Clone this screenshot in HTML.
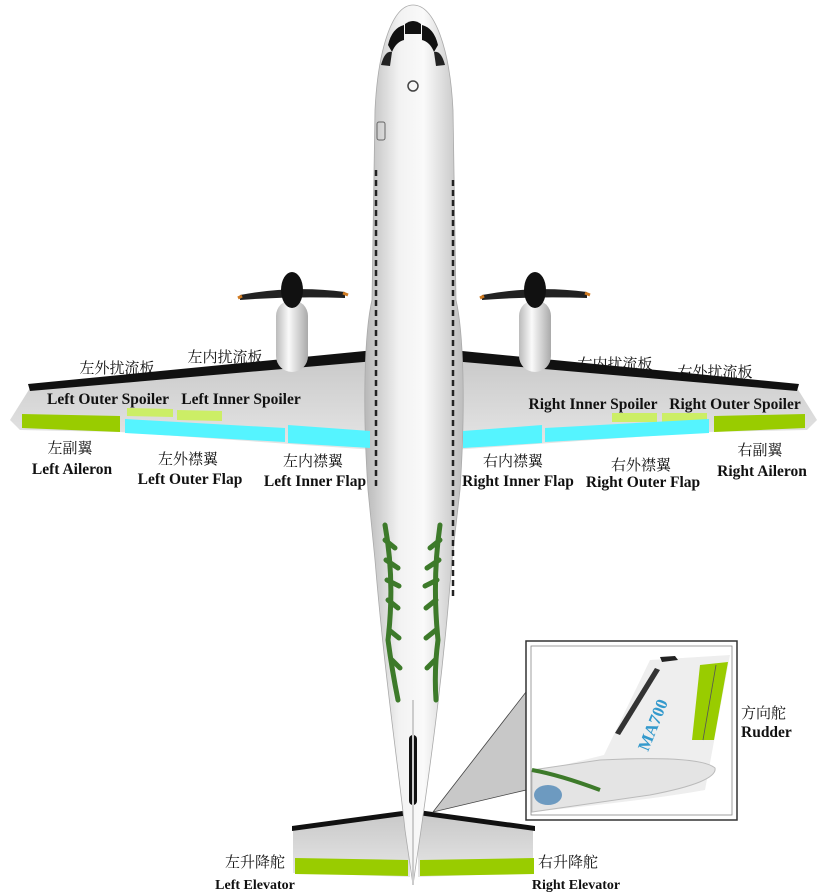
<!DOCTYPE html>
<html><head><meta charset="utf-8"><style>
html,body{margin:0;padding:0;background:#fff;}
svg{display:block;}
.cn{font-family:"Liberation Serif","Noto Serif CJK SC",serif;font-size:15px;fill:#111;}
.en{font-family:"Liberation Serif","Noto Serif CJK SC",serif;font-size:15.5px;font-weight:bold;fill:#111;}
</style></head><body>
<svg width="827" height="895" viewBox="0 0 827 895" xmlns="http://www.w3.org/2000/svg">
<defs>
<linearGradient id="fus" x1="0" x2="1" y1="0" y2="0">
<stop offset="0" stop-color="#b8b8b8"/><stop offset="0.35" stop-color="#f2f2f2"/><stop offset="0.6" stop-color="#fafafa"/><stop offset="1" stop-color="#bdbdbd"/></linearGradient>
<linearGradient id="wing" x1="0" x2="0" y1="0" y2="1">
<stop offset="0" stop-color="#c8c8c8"/><stop offset="1" stop-color="#e6e6e6"/></linearGradient>
<linearGradient id="nac" x1="0" x2="1"><stop offset="0" stop-color="#bbb"/><stop offset="0.4" stop-color="#fafafa"/><stop offset="1" stop-color="#aaa"/></linearGradient>
</defs>

<path d="M30,388 L375,354 L375,450 L120,432 L20,430 L10,420 Z" fill="url(#wing)"/>
<path d="M28,384 L375,350 L375,361 L30,391 Z" fill="#111"/>
<path d="M797,388 L452,354 L452,450 L707,432 L807,430 L817,420 Z" fill="url(#wing)"/>
<path d="M799,384 L452,350 L452,361 L797,391 Z" fill="#111"/>

<g>
<rect x="276" y="300" width="32" height="72" rx="16" fill="url(#nac)"/>
<path d="M240,295 Q292,285 345,292 L345,298 Q292,296 240,300Z" fill="#222"/>
<path d="M242,296 l-4,2 M343,293 l5,2" stroke="#d07a20" stroke-width="3"/>
<ellipse cx="292" cy="290" rx="11" ry="18" fill="#111"/>
<rect x="519" y="300" width="32" height="72" rx="16" fill="url(#nac)"/>
<path d="M482,295 Q535,285 587,292 L587,298 Q535,296 482,300Z" fill="#222"/>
<path d="M484,296 l-4,2 M585,293 l5,2" stroke="#d07a20" stroke-width="3"/>
<ellipse cx="535" cy="290" rx="11" ry="18" fill="#111"/>
</g>

<path d="M293,828 L410,812 L410,877 L293,873 Z" fill="url(#wing)"/>
<path d="M533,828 L418,812 L418,877 L533,873 Z" fill="url(#wing)"/>
<path d="M292,826 L410,810 L410,815 L292,831 Z" fill="#111"/>
<path d="M535,826 L418,810 L418,815 L535,831 Z" fill="#111"/>
<path d="M295,858 L408,860 L408,876 L295,874 Z" fill="#99cc00"/>
<path d="M420,860 L534,858 L534,874 L420,876 Z" fill="#99cc00"/>

<path d="M413,5 C392,5 378,50 375,110 L372,300 C365,330 362,400 368,490 L375,560 C385,680 400,780 405,830 L413,885 L421,830 C428,780 443,680 452,560 L460,490 C466,400 463,330 456,300 L453,110 C450,50 435,5 413,5 Z" fill="url(#fus)" stroke="#aaa" stroke-width="0.8"/>
<path d="M388,45 Q392,28 404,25 L404,40 Q396,42 392,52Z" fill="#111"/>
<path d="M438,45 Q434,28 422,25 L422,40 Q430,42 434,52Z" fill="#111"/>
<path d="M405,24 Q413,18 421,24 L421,34 L405,34Z" fill="#111"/>
<path d="M381,65 Q385,50 392,52 L390,66Z" fill="#222"/>
<path d="M445,65 Q441,50 434,52 L436,66Z" fill="#222"/>
<circle cx="413" cy="86" r="5" fill="none" stroke="#444" stroke-width="1.5"/>
<rect x="377" y="122" width="8" height="18" rx="2" fill="none" stroke="#666"/>
<line x1="376" y1="170" x2="376" y2="490" stroke="#222" stroke-width="2.5" stroke-dasharray="6,4"/>
<line x1="453" y1="180" x2="453" y2="600" stroke="#222" stroke-width="2.5" stroke-dasharray="6,4"/>
<rect x="409" y="735" width="8" height="70" rx="4" fill="#111"/>
<line x1="413" y1="700" x2="413" y2="885" stroke="#ccc" stroke-width="2"/>
<g stroke="#3d7a2a" stroke-width="5" fill="none" stroke-linecap="round">
<path d="M385,525 Q395,580 388,640 Q392,670 398,700"/>
<path d="M440,525 Q432,580 438,640 Q434,670 436,700"/>
<path d="M385,540 l10,8 M386,560 l12,8 M387,580 l12,6 M388,600 l10,8 M389,630 l10,8 M392,660 l8,8"/>
<path d="M440,540 l-10,8 M439,560 l-12,8 M437,580 l-12,6 M436,600 l-10,8 M436,630 l-10,8 M435,660 l-8,8"/>
</g>

<path d="M22,414 L120,416 L120,432 L22,428 Z" fill="#99cc00"/>
<path d="M127,408 L173,409 L173,417 L127,416 Z" fill="#ccee66"/>
<path d="M177,410 L222,411 L222,421 L177,420 Z" fill="#ccee66"/>
<path d="M125,419 L285,428 L285,442 L125,433 Z" fill="#55f4ff"/>
<path d="M288,425 L370,431 L370,448 L288,443 Z" fill="#55f4ff"/>
<path d="M805,414 L714,416 L714,432 L805,428 Z" fill="#99cc00"/>
<path d="M612,413 L657,413 L657,422 L612,422 Z" fill="#ccee66"/>
<path d="M662,413 L707,413 L707,422 L662,422 Z" fill="#ccee66"/>
<path d="M709,419 L545,428 L545,442 L709,433 Z" fill="#55f4ff"/>
<path d="M542,425 L463,431 L463,448 L542,443 Z" fill="#55f4ff"/>

<path d="M433,812 L526,692 L526,790 Z" fill="#c8c8c8" stroke="#444" stroke-width="0.8"/>
<rect x="526" y="641" width="211" height="179" fill="#fff" stroke="#333" stroke-width="1.5"/>
<rect x="531" y="646" width="201" height="169" fill="#fff" stroke="#888" stroke-width="0.8"/>
<path d="M532,773 L604,755 L650,660 L730,655 L705,790 Q650,800 532,812Z" fill="#eee"/>
<path d="M532,770 L600,760 Q700,755 715,768 Q718,782 650,795 L532,812Z" fill="#e4e4e4" stroke="#bbb"/>
<path d="M700,665 L728,662 L714,740 L692,740 Z" fill="#99cc00"/>
<line x1="716" y1="665" x2="703" y2="740" stroke="#555" stroke-width="0.8"/>
<path d="M655,668 L660,670 L620,735 L615,733Z" fill="#333"/>
<path d="M660,657 l15,-1 l3,4 l-16,2Z" fill="#222"/>
<text x="0" y="0" transform="translate(648,752) rotate(-68)" font-family="Liberation Serif,serif" font-weight="bold" font-size="17" fill="#3399cc">MA700</text>
<path d="M532,770 Q560,775 600,790" stroke="#3d7a2a" stroke-width="4" fill="none"/>
<ellipse cx="548" cy="795" rx="14" ry="10" fill="#3a7ab0" opacity="0.7"/>

<g class="cn" text-anchor="middle">
<text x="117" y="373">左外扰流板</text>
<text x="225" y="362">左内扰流板</text>
<text x="70" y="453">左副翼</text>
<text x="188" y="464">左外襟翼</text>
<text x="313" y="466">左内襟翼</text>
<text x="615" y="369">右内扰流板</text>
<text x="715" y="377">右外扰流板</text>
<text x="513" y="466">右内襟翼</text>
<text x="641" y="470">右外襟翼</text>
<text x="760" y="455">右副翼</text>
<text x="255" y="867">左升降舵</text>
<text x="568" y="867">右升降舵</text>
</g>
<g class="en" text-anchor="middle">
<text x="108" y="404">Left Outer Spoiler</text>
<text x="241" y="404">Left Inner Spoiler</text>
<text x="72" y="474">Left Aileron</text>
<text x="190" y="484">Left Outer Flap</text>
<text x="315" y="486">Left Inner Flap</text>
<text x="593" y="409">Right Inner Spoiler</text>
<text x="735" y="409">Right Outer Spoiler</text>
<text x="518" y="486">Right Inner Flap</text>
<text x="643" y="487">Right Outer Flap</text>
<text x="762" y="476">Right Aileron</text>
<text x="255" y="889" font-size="14">Left Elevator</text>
<text x="576" y="889" font-size="14">Right Elevator</text>
</g>
<text class="cn" x="741" y="718">方向舵</text>
<text class="en" x="741" y="737" font-size="14">Rudder</text>
</svg>
</body></html>
